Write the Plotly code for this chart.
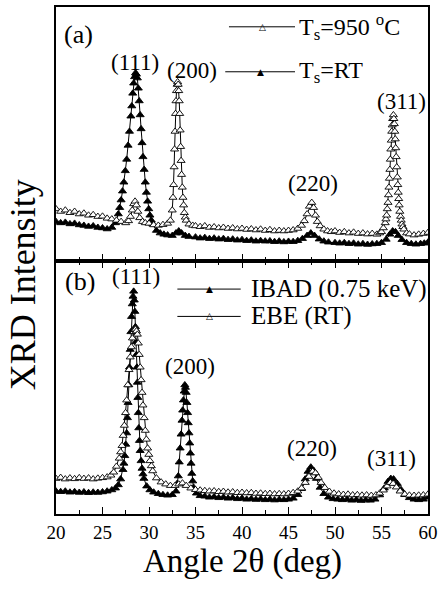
import plotly.graph_objects as go

# ---------------- data ----------------
# panel (a), Ts = 950 °C (open triangles)
a_open_x = [20.0, 20.5, 21.0, 21.5, 22.0, 22.5, 23.0, 23.5, 24.0, 24.5, 25.0, 25.5, 26.0, 26.5, 27.0, 27.5,
            27.8, 28.0, 28.2, 28.35, 28.5, 28.65, 28.8, 29.0, 29.3, 29.6, 30.0, 30.5, 31.0, 31.5, 32.0, 32.3,
            32.5, 32.58, 32.65, 32.7, 32.75, 32.8, 32.85, 32.9, 32.95, 33.02, 33.08, 33.14, 33.2, 33.25, 33.3,
            33.35, 33.4, 33.45, 33.5, 33.58, 33.65, 33.72, 33.8, 33.9, 34.0, 34.3, 34.7,
            35.0, 35.5, 36.0, 36.5, 37.0, 37.5, 38.0, 38.5, 39.0, 39.5, 40.0, 40.5, 41.0, 41.5, 42.0, 42.5,
            43.0, 43.5, 44.0, 44.5, 45.0, 45.5, 46.0, 46.4, 46.7, 47.0, 47.25, 47.5, 47.7, 47.9, 48.1, 48.4,
            48.8, 49.2, 49.6, 50.0, 50.5, 51.0, 51.5, 52.0, 52.5, 53.0, 53.5, 54.0, 54.5, 54.8, 55.0, 55.2,
            55.4, 55.48, 55.55, 55.62, 55.7, 55.75, 55.8, 55.85, 55.9, 55.95, 56.0, 56.05, 56.1, 56.15, 56.2,
            56.28, 56.33, 56.38, 56.43, 56.48, 56.53, 56.58, 56.64, 56.7, 56.75, 56.8, 56.85, 56.9, 56.97,
            57.05, 57.12, 57.2, 57.3, 57.4, 57.7, 58.0, 58.5, 59.0, 59.5, 60.0]
a_open_y = [20.5, 19.5, 20.0, 19.0, 19.5, 18.5, 18.8, 18.0, 18.2, 17.5, 17.6, 16.8, 16.5, 16.0, 15.5, 15.0,
            15.8, 17.5, 20.0, 22.5, 23.5, 22.0, 19.5, 17.0, 15.5, 15.0, 14.8, 14.2, 14.0, 14.3, 14.8, 16.0,
            20.0, 25.0, 30.0, 37.0, 44.0, 51.0, 58.0, 63.0, 67.0, 69.5, 70.5, 69.5, 67.0, 63.0, 58.0,
            51.5, 45.0, 39.5, 34.0, 29.0, 25.0, 22.0, 19.0, 17.2, 16.0, 14.5, 14.0,
            13.8, 13.5, 13.8, 13.2, 13.4, 13.0, 13.2, 12.8, 13.0, 12.6, 12.8, 12.4, 12.6, 12.2, 12.5, 12.0,
            12.3, 11.8, 12.0, 11.8, 12.0, 12.2, 12.8, 14.0, 15.8, 18.5, 21.5, 23.0, 21.0, 18.0, 15.5, 13.8,
            12.5, 11.8, 11.5, 11.8, 11.2, 11.5, 11.0, 11.3, 10.8, 11.0, 10.6, 10.8, 10.5, 11.0, 11.5, 13.0,
            15.0, 16.5, 18.0, 20.5, 23.0, 26.0, 29.0, 32.5, 36.0, 40.0, 44.0, 47.5, 51.0, 53.5, 56.0,
            57.5, 56.0, 54.0, 51.0, 48.0, 44.5, 41.0, 37.0, 33.0, 30.0, 27.0, 24.5, 22.0, 19.5,
            17.5, 16.0, 14.5, 13.5, 12.5, 11.0, 10.6, 10.2, 10.5, 10.8, 11.2]

# panel (a), Ts = RT (filled triangles)
a_fill_x = [20.0, 20.5, 21.0, 21.5, 22.0, 22.5, 23.0, 23.5, 24.0, 24.5, 25.0, 25.5, 26.0, 26.4, 26.7, 26.85,
            27.0, 27.15, 27.3, 27.45, 27.6, 27.75, 27.9, 28.05, 28.15, 28.25, 28.35, 28.45, 28.55, 28.65, 28.75,
            28.85, 28.95, 29.05, 29.15, 29.25, 29.35, 29.48, 29.6, 29.72, 29.85, 29.97, 30.1, 30.25, 30.4, 30.8,
            31.2, 31.6, 32.0, 32.5, 32.9, 33.2, 33.5, 33.9, 34.3, 35.0, 35.5, 36.0, 36.5, 37.0, 37.5, 38.0,
            38.5, 39.0, 39.5, 40.0, 40.5, 41.0, 41.5, 42.0, 42.5, 43.0, 43.5, 44.0, 44.5, 45.0, 45.5, 46.0,
            46.5, 47.0, 47.4, 47.8, 48.3, 48.8, 49.3, 50.0, 50.5, 51.0, 51.5, 52.0, 52.5, 53.0, 53.5, 54.0,
            54.5, 55.0, 55.5, 55.9, 56.2, 56.5, 56.8, 57.2, 57.7, 58.2, 58.7, 59.2, 59.6, 60.0]
a_fill_y = [15.5, 15.0, 15.2, 14.6, 14.8, 14.2, 14.0, 13.6, 13.8, 13.2, 13.0, 12.6, 13.2, 15.0, 18.5, 21.0,
            24.0, 27.5, 31.0, 35.5, 40.0, 45.5, 51.0, 57.0, 61.0, 66.0, 70.0, 72.5, 74.0, 73.5, 72.0,
            68.0, 63.0, 57.5, 52.0, 46.5, 41.0, 36.0, 31.0, 27.0, 23.5, 20.5, 18.0, 16.0, 14.5, 12.0,
            11.0, 10.5, 10.2, 10.0, 11.0, 11.8, 11.0, 10.0, 9.6, 9.4, 9.0, 9.2, 8.8, 9.0, 8.6, 8.8,
            8.4, 8.6, 8.2, 8.4, 8.0, 8.2, 7.8, 8.0, 7.8, 7.9, 7.6, 7.8, 7.5, 7.7, 7.6, 8.0,
            8.8, 10.0, 11.0, 10.0, 8.6, 7.8, 7.4, 7.2, 7.0, 7.2, 6.8, 7.0, 6.6, 6.8, 6.5, 6.7,
            6.8, 7.2, 8.5, 10.5, 11.8, 11.5, 10.0, 8.4, 7.2, 6.8, 6.6, 6.8, 7.0, 7.4]

# panel (b), IBAD (0.75 keV) (filled triangles)
b_fill_x = [20.0, 20.5, 21.0, 21.5, 22.0, 22.5, 23.0, 23.5, 24.0, 24.5, 25.0, 25.5, 26.0, 26.4, 26.7, 26.95,
            27.2, 27.3, 27.4, 27.5, 27.6, 27.68, 27.75, 27.83, 27.9, 27.98, 28.05, 28.12, 28.2, 28.28, 28.35,
            28.42, 28.48, 28.54, 28.6, 28.65, 28.7, 28.75, 28.8, 28.85, 28.9, 28.97, 29.05, 29.15, 29.25,
            29.35, 29.45, 29.75, 30.1, 30.5, 31.0, 31.5, 32.0, 32.5, 32.9, 33.02, 33.15, 33.25, 33.35, 33.45,
            33.55, 33.62, 33.7, 33.78, 33.85, 33.92, 34.0, 34.08, 34.15, 34.22, 34.3, 34.38, 34.45, 34.52,
            34.6, 34.7, 34.8, 35.1, 35.5, 36.0, 36.5, 37.0, 37.5, 38.0, 38.5, 39.0, 39.5, 40.0,
            40.5, 41.0, 41.5, 42.0, 42.5, 43.0, 43.5, 44.0, 44.5, 45.0, 45.5, 46.0, 46.4, 46.8, 47.1, 47.4,
            47.7, 48.0, 48.4, 48.8, 49.3, 49.8, 50.3, 50.8, 51.3, 51.8, 52.3, 52.8, 53.3, 53.8, 54.3, 54.8,
            55.3, 55.7, 56.0, 56.3, 56.7, 57.1, 57.5, 58.0, 58.5, 59.0, 59.5, 60.0]
b_fill_y = [9.0, 8.8, 9.0, 8.6, 8.8, 8.5, 8.7, 8.4, 8.6, 8.5, 8.7, 9.0, 9.5, 10.2, 11.5, 13.8,
            17.5, 20.0, 23.0, 27.5, 32.0, 38.0, 44.0, 51.0, 58.0, 65.0, 72.0, 78.0, 83.0, 86.0, 88.0,
            84.5, 80.0, 74.0, 68.0, 63.0, 58.0, 52.0, 46.0, 40.0, 34.0, 29.0, 25.0, 21.0, 18.0,
            15.8, 14.0, 11.0, 9.5, 8.6, 8.0, 7.6, 7.4, 7.6, 9.0, 12.0, 15.0, 20.5, 26.0, 31.5,
            37.0, 41.0, 45.0, 48.5, 51.0, 50.0, 48.0, 44.0, 40.0, 36.0, 32.0, 28.0, 24.0, 20.0,
            16.0, 13.0, 10.5, 8.2, 7.2, 7.0, 6.6, 6.8, 6.4, 6.6, 6.2, 6.4, 6.0, 6.2,
            5.8, 6.0, 5.7, 5.9, 5.6, 5.8, 5.5, 5.7, 5.6, 5.8, 6.2, 7.6, 10.0, 13.8, 16.8, 18.5,
            17.2, 14.0, 10.5, 8.0, 6.6, 6.0, 5.8, 5.6, 5.8, 5.4, 5.6, 5.3, 5.5, 5.4, 5.8, 7.5,
            10.2, 12.8, 14.0, 13.8, 12.0, 9.6, 7.6, 6.4, 5.8, 5.6, 5.8, 6.6]

# panel (b), EBE (RT) (open triangles)
b_open_x = [20.0, 20.5, 21.0, 21.5, 22.0, 22.5, 23.0, 23.5, 24.0, 24.5, 25.0, 25.5, 25.9, 26.2, 26.5, 26.8,
            26.95, 27.1, 27.22, 27.35, 27.48, 27.6, 27.72, 27.85, 27.98, 28.1, 28.22, 28.35, 28.45, 28.55,
            28.65, 28.75, 28.85, 28.95, 29.05, 29.15, 29.25, 29.35, 29.48, 29.6, 29.72, 29.85, 29.98, 30.1,
            30.25, 30.4, 30.8, 31.3, 31.8, 32.3, 32.8, 33.2, 33.6, 34.0, 34.5, 35.0, 35.5, 36.0, 36.5, 37.0,
            37.5, 38.0, 38.5, 39.0, 39.5, 40.0, 40.5, 41.0, 41.5, 42.0, 42.5, 43.0, 43.5, 44.0, 44.5, 45.0,
            45.5, 46.0, 46.4, 46.8, 47.2, 47.6, 47.9, 48.2, 48.5, 48.9, 49.4, 49.9, 50.4, 50.9, 51.4, 51.9,
            52.4, 52.9, 53.4, 53.9, 54.4, 54.8, 55.2, 55.6, 55.95, 56.25, 56.6, 57.0, 57.5, 58.0, 58.5, 59.0,
            59.5, 60.0]
b_open_y = [14.0, 14.4, 13.8, 14.2, 13.9, 14.3, 14.0, 14.2, 13.8, 14.1, 14.3, 14.6, 15.3, 16.5, 18.8, 22.0,
            24.5, 27.0, 31.0, 35.0, 40.0, 45.0, 51.0, 57.0, 62.0, 66.0, 69.5, 72.0, 72.8, 73.0,
            72.3, 71.0, 67.5, 63.0, 58.0, 53.0, 48.0, 43.0, 38.0, 33.0, 29.5, 26.0, 23.5, 21.0,
            19.0, 17.0, 14.2, 12.6, 11.8, 11.2, 11.2, 11.8, 12.2, 11.2, 10.2, 9.6, 9.4, 9.2, 9.0, 9.1,
            8.8, 8.9, 8.6, 8.7, 8.4, 8.5, 8.3, 8.4, 8.1, 8.2, 8.0, 8.1, 7.9, 8.0, 7.9, 8.1,
            8.4, 9.0, 10.2, 12.4, 14.8, 16.8, 16.2, 14.4, 12.4, 10.4, 8.9, 8.2, 7.9, 7.7, 7.8, 7.5,
            7.6, 7.4, 7.5, 7.3, 7.5, 8.2, 9.4, 11.0, 12.4, 12.0, 10.6, 9.0, 7.8, 7.4, 7.3, 7.4,
            7.5, 7.8]

x_ticks = [20, 25, 30, 35, 40, 45, 50, 55, 60]
x_tick_labels = ["20", "25", "30", "35", "40", "45", "50", "55", "60"]

FONT = "Liberation Serif"

# ---------------- figure ----------------
fig = go.Figure()

def series(x, y, filled, xa, ya):
    return go.Scatter(
        x=x, y=y, mode="lines+markers", xaxis=xa, yaxis=ya, showlegend=False,
        line=dict(color="black", width=1),
        marker=dict(symbol="triangle-up", size=7,
                    color="black" if filled else "white",
                    line=dict(color="black", width=0.9)),
        hoverinfo="skip")

# panel (a) (top): x2 / y2
fig.add_trace(series(a_fill_x, a_fill_y, True, "x2", "y2"))
fig.add_trace(series(a_open_x, a_open_y, False, "x2", "y2"))
# panel (b) (bottom): x / y
fig.add_trace(series(b_fill_x, b_fill_y, True, "x", "y"))
fig.add_trace(series(b_open_x, b_open_y, False, "x", "y"))

axis_common = dict(range=[20, 60], showline=True, linecolor="black", linewidth=1.5,
                   ticks="inside", ticklen=7, tickwidth=1.2, tickcolor="black",
                   tickvals=x_ticks, ticktext=x_tick_labels, showgrid=False, zeroline=False,
                   minor=dict(ticks="inside", ticklen=4, tickwidth=1.2, tickcolor="black",
                              dtick=2.5, tick0=20, showgrid=False))

fig.update_layout(
    width=443, height=593,
    margin=dict(l=56, r=13, t=5, b=79),
    paper_bgcolor="white", plot_bgcolor="white",
    font=dict(family=FONT, color="black"),
    xaxis=dict(**axis_common, anchor="y", mirror="ticks",
               tickfont=dict(family=FONT, size=19, color="black")),
    xaxis2=dict(**axis_common, anchor="y2", mirror=True, matches="x", showticklabels=False),
    yaxis=dict(domain=[0, 0.499], range=[0, 100], showline=True, mirror=True, linecolor="black",
               linewidth=1.5, showticklabels=False, ticks="", showgrid=False, zeroline=False),
    yaxis2=dict(domain=[0.499, 1], range=[0, 100], showline=True, mirror=True, linecolor="black",
                linewidth=1.5, showticklabels=False, ticks="", showgrid=False, zeroline=False),
)

ann = []
def label(text, x, y, xa, ya, size, xanchor="center"):
    ann.append(dict(text=text, x=x, y=y, xref=xa, yref=ya, showarrow=False,
                    xanchor=xanchor, yanchor="middle", font=dict(family=FONT, size=size, color="black")))

# panel labels and peak indices
label("(a)", 20.6, 89, "x2", "y2", 26, "left")
label("(111)", 28.45, 78, "x2", "y2", 23)
label("(200)", 34.6, 75, "x2", "y2", 23)
label("(220)", 47.6, 30.6, "x2", "y2", 23)
label("(311)", 57.1, 62.7, "x2", "y2", 23)
label("(b)", 20.7, 92, "x", "y", 26, "left")
label("(111)", 28.56, 94, "x", "y", 23)
label("(200)", 34.44, 58.3, "x", "y", 23)
label("(220)", 47.54, 26, "x", "y", 23)
label("(311)", 56.04, 22, "x", "y", 23)

# legends (line sample + triangle glyph + text)
shapes = []
def legend_row(text, y, xa, ya, filled, x0, x1, xm, xt, size):
    shapes.append(dict(type="line", xref=xa, yref=ya, x0=x0, x1=x1, y0=y, y1=y,
                       line=dict(color="black", width=1)))
    ann.append(dict(text="▲" if filled else "△", x=xm, y=y, xref=xa, yref=ya, showarrow=False,
                    xanchor="center", yanchor="middle",
                    font=dict(family="DejaVu Sans", size=9, color="black")))
    label(text, xt, y, xa, ya, size, "left")

legend_row("T<sub>s</sub>=950 <sup>o</sup>C", 92.2, "x2", "y2", False, 38.6, 45.7, 42.2, 45.95, 24)
legend_row("T<sub>s</sub>=RT", 74.5, "x2", "y2", True, 38.2, 45.7, 42.0, 45.95, 24)
legend_row("IBAD (0.75 keV)", 88.9, "x", "y", True, 33.05, 39.86, 36.47, 40.75, 25)
legend_row("EBE (RT)", 78.1, "x", "y", False, 33.05, 39.86, 36.47, 40.75, 25)

# axis titles
ann.append(dict(text="Angle 2θ (deg)", x=0.5, y=-0.094, xref="paper", yref="paper", showarrow=False,
                xanchor="center", yanchor="middle", font=dict(family=FONT, size=33, color="black")))
ann.append(dict(text="XRD Intensity", x=-0.09, y=0.452, xref="paper", yref="paper", showarrow=False,
                textangle=-90, xanchor="center", yanchor="middle",
                font=dict(family=FONT, size=36, color="black")))

fig.update_layout(annotations=ann, shapes=shapes)

fig.write_html("out.html", config={"displayModeBar": False},
               post_script="document.body.style.margin='0';document.body.style.padding='0';")
